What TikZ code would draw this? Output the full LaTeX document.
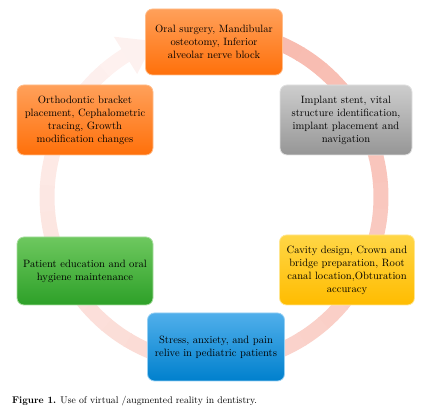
\documentclass[tikz,border=0pt]{standalone}
\usepackage{tikz}
\usetikzlibrary{calc}
\definecolor{ringc}{RGB}{246,170,156}
\definecolor{orngT}{RGB}{255,160,90}
\definecolor{orngB}{RGB}{255,112,10}
\definecolor{gryT}{RGB}{205,205,205}
\definecolor{gryB}{RGB}{150,150,150}
\definecolor{ylwT}{RGB}{255,214,70}
\definecolor{ylwB}{RGB}{255,188,0}
\definecolor{grnT}{RGB}{110,200,95}
\definecolor{grnB}{RGB}{45,160,40}
\definecolor{bluT}{RGB}{80,175,235}
\definecolor{bluB}{RGB}{0,128,205}
\tikzset{
  blk/.style={rounded corners=7pt, align=center, inner sep=2pt,
              font=\fontsize{10.6}{13}\selectfont, line width=0.8pt},
  orng/.style={top color=orngT, bottom color=orngB, draw=orngT!70!white},
  gry/.style={top color=gryT, bottom color=gryB, draw=gryT!60!white},
  ylw/.style={top color=ylwT, bottom color=ylwB, draw=ylwT!60!white},
  grn/.style={top color=grnT, bottom color=grnB, draw=grnT!60!white},
  blu/.style={top color=bluT, bottom color=bluB, draw=bluT!60!white},
  captxt/.style={font=\fontsize{9.7}{11}\selectfont, inner sep=0pt},
}
\begin{document}
\begin{tikzpicture}[x=1pt,y=1pt]
  \useasboundingbox (0,0) rectangle (429,412);
  % fading cycle ring
  \coordinate (ctr) at (214,215);
  \foreach \i in {0,...,36}{
    \pgfmathsetmacro{\pc}{85-\i*1.9}
    \draw[line width=15pt, color=ringc!\pc!white]
      ($(ctr)+({95-\i*9}:167)$) arc[start angle={95-\i*9}, delta angle=-9.4, radius=167];
  }
  \fill[ringc!16!white] ($(ctr)+(122:189)$) -- ($(ctr)+(111:167)$)
    -- ($(ctr)+(122:145)$) -- cycle;
  \node[blk,orng,minimum width=137pt,minimum height=66pt] (surg) at (214,370)
    {Oral surgery, Mandibular\\osteotomy, Inferior\\alveolar nerve block};
  \node[blk,gry,minimum width=132pt,minimum height=70pt] (impl) at (346,292)
    {Implant stent, vital\\structure identification,\\implant placement and\\navigation};
  \node[blk,ylw,minimum width=135pt,minimum height=70pt] (cav) at (347,142)
    {Cavity design, Crown and\\bridge preparation, Root\\canal location,Obturation\\accuracy};
  \node[blk,blu,minimum width=137pt,minimum height=68pt] (ped) at (216,65)
    {Stress, anxiety, and pain\\relive in pediatric patients};
  \node[blk,grn,minimum width=136pt,minimum height=68pt] (edu) at (85,141)
    {Patient education and oral\\hygiene maintenance};
  \node[blk,orng,minimum width=136pt,minimum height=70pt] (orth) at (85,292)
    {Orthodontic bracket\\placement, Cephalometric\\tracing, Growth\\modification changes};
  \node[captxt,anchor=base west] (fig) at (12,8)
    {\textbf{Figure 1.} Use of virtual /augmented reality in dentistry.};
\end{tikzpicture}
\end{document}
